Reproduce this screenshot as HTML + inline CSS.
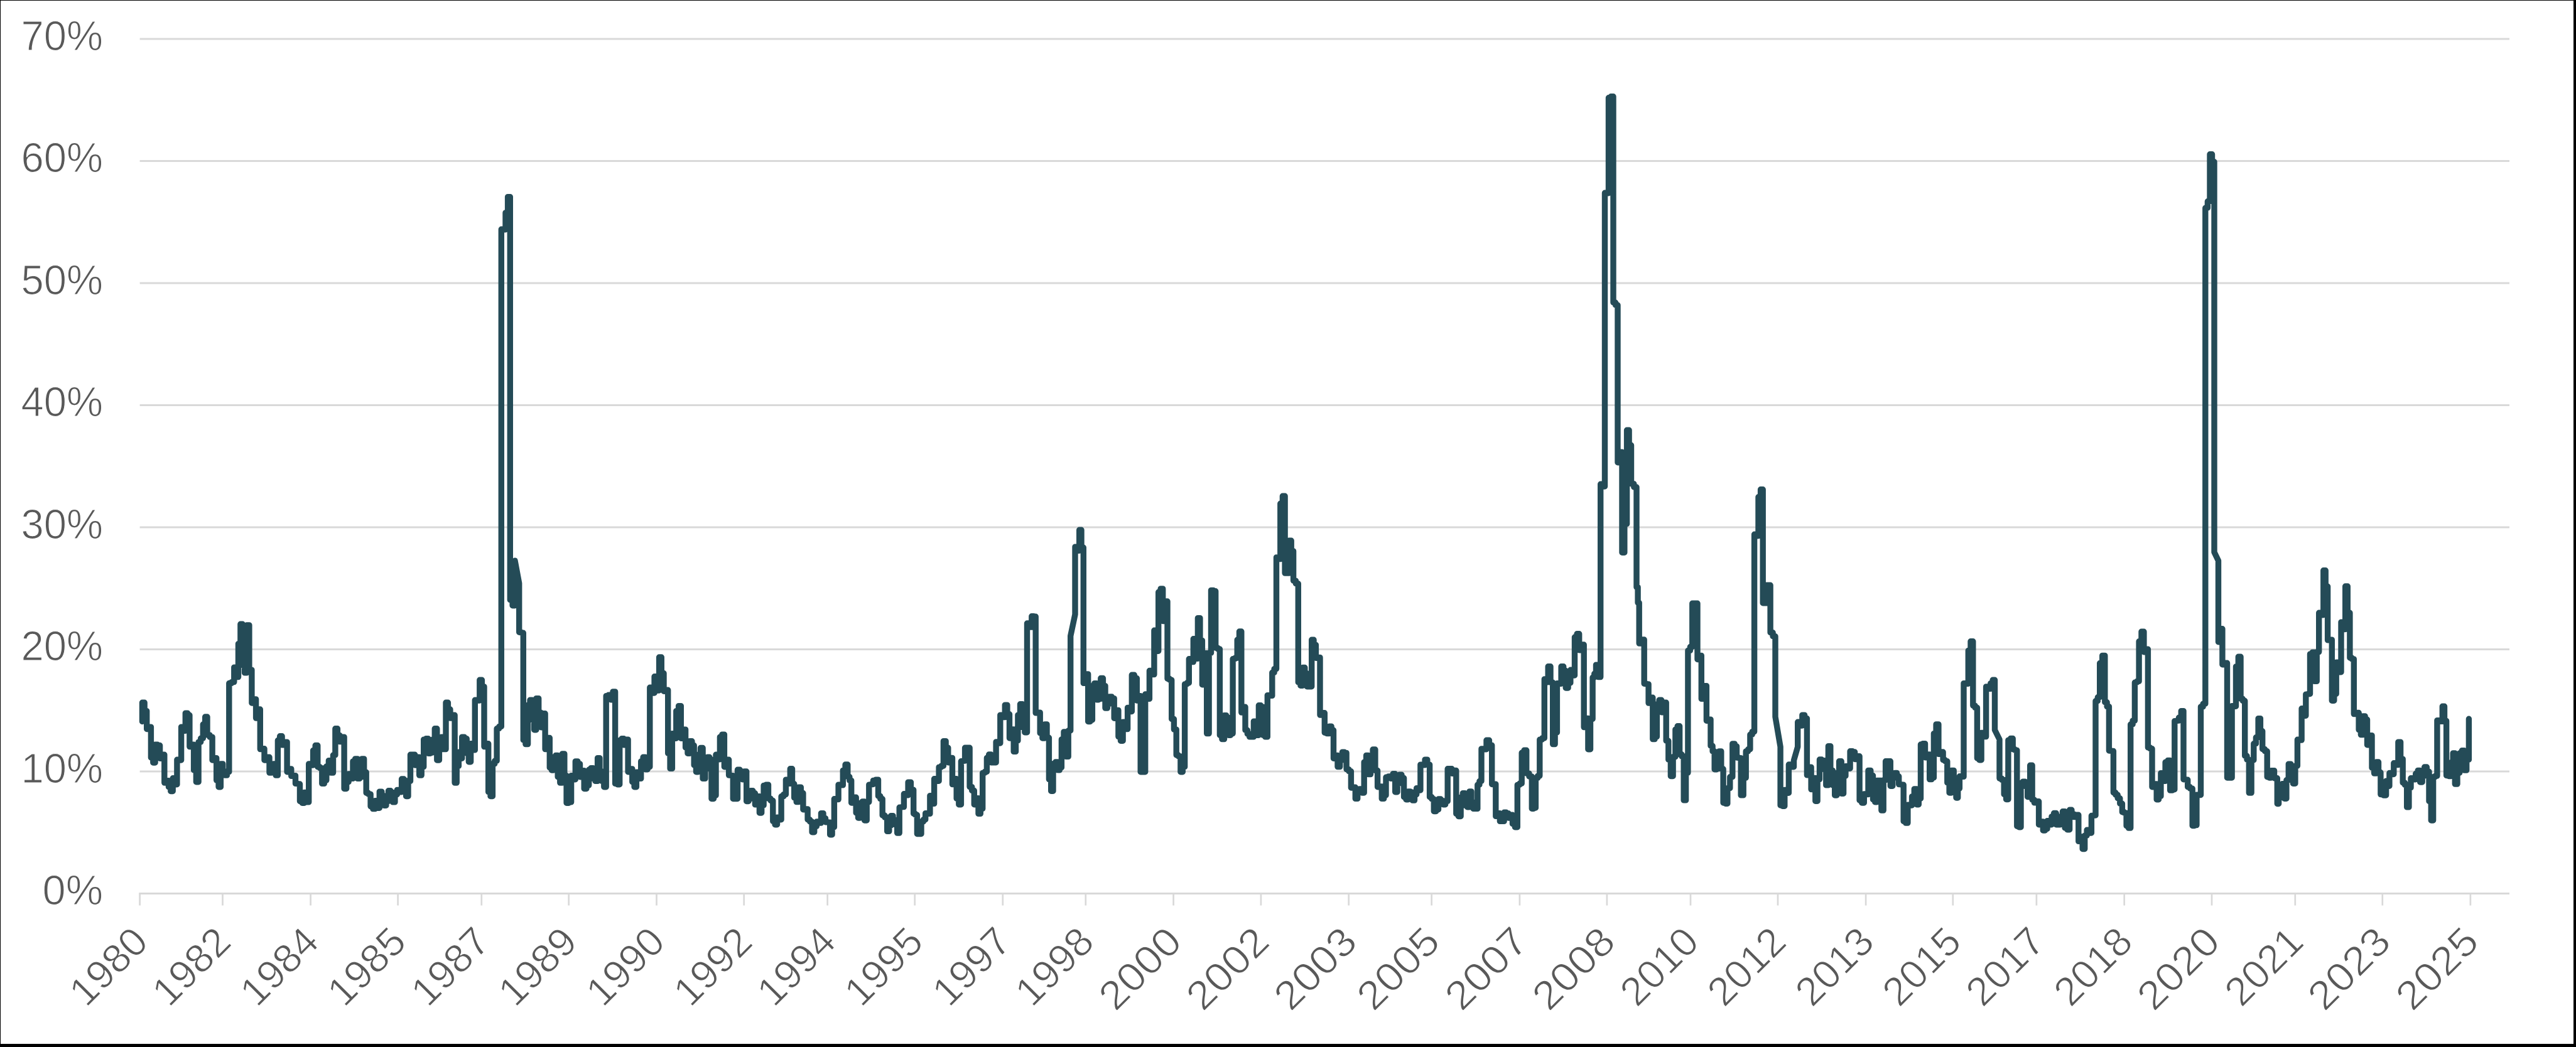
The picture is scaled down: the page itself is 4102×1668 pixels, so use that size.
<!DOCTYPE html>
<html><head><meta charset="utf-8"><style>
html,body{margin:0;padding:0;background:#fff;}
body{width:4102px;height:1668px;overflow:hidden;}
svg{display:block;}
</style></head><body>
<svg width="4102" height="1668" viewBox="0 0 4102 1668">
<rect x="0" y="0" width="4102" height="1668" fill="#000"/>
<rect x="1" y="1" width="4097" height="1662" fill="#fff"/>
<line x1="222.6" y1="1229.0" x2="3996" y2="1229.0" stroke="#d9d9d9" stroke-width="3"/>
<line x1="222.6" y1="1034.5" x2="3996" y2="1034.5" stroke="#d9d9d9" stroke-width="3"/>
<line x1="222.6" y1="840.0" x2="3996" y2="840.0" stroke="#d9d9d9" stroke-width="3"/>
<line x1="222.6" y1="645.5" x2="3996" y2="645.5" stroke="#d9d9d9" stroke-width="3"/>
<line x1="222.6" y1="451.0" x2="3996" y2="451.0" stroke="#d9d9d9" stroke-width="3"/>
<line x1="222.6" y1="256.5" x2="3996" y2="256.5" stroke="#d9d9d9" stroke-width="3"/>
<line x1="222.6" y1="62.0" x2="3996" y2="62.0" stroke="#d9d9d9" stroke-width="3"/>
<line x1="221.3" y1="1423.5" x2="3996" y2="1423.5" stroke="#d9d9d9" stroke-width="3"/>
<line x1="222.6" y1="1423.5" x2="222.6" y2="1442.5" stroke="#d9d9d9" stroke-width="2.7"/>
<line x1="354.5" y1="1423.5" x2="354.5" y2="1442.5" stroke="#d9d9d9" stroke-width="2.7"/>
<line x1="494.6" y1="1423.5" x2="494.6" y2="1442.5" stroke="#d9d9d9" stroke-width="2.7"/>
<line x1="633.6" y1="1423.5" x2="633.6" y2="1442.5" stroke="#d9d9d9" stroke-width="2.7"/>
<line x1="766.8" y1="1423.5" x2="766.8" y2="1442.5" stroke="#d9d9d9" stroke-width="2.7"/>
<line x1="905.7" y1="1423.5" x2="905.7" y2="1442.5" stroke="#d9d9d9" stroke-width="2.7"/>
<line x1="1045.5" y1="1423.5" x2="1045.5" y2="1442.5" stroke="#d9d9d9" stroke-width="2.7"/>
<line x1="1184.7" y1="1423.5" x2="1184.7" y2="1442.5" stroke="#d9d9d9" stroke-width="2.7"/>
<line x1="1317.7" y1="1423.5" x2="1317.7" y2="1442.5" stroke="#d9d9d9" stroke-width="2.7"/>
<line x1="1456.7" y1="1423.5" x2="1456.7" y2="1442.5" stroke="#d9d9d9" stroke-width="2.7"/>
<line x1="1596.8" y1="1423.5" x2="1596.8" y2="1442.5" stroke="#d9d9d9" stroke-width="2.7"/>
<line x1="1728.8" y1="1423.5" x2="1728.8" y2="1442.5" stroke="#d9d9d9" stroke-width="2.7"/>
<line x1="1868.6" y1="1423.5" x2="1868.6" y2="1442.5" stroke="#d9d9d9" stroke-width="2.7"/>
<line x1="2007.9" y1="1423.5" x2="2007.9" y2="1442.5" stroke="#d9d9d9" stroke-width="2.7"/>
<line x1="2147.7" y1="1423.5" x2="2147.7" y2="1442.5" stroke="#d9d9d9" stroke-width="2.7"/>
<line x1="2279.7" y1="1423.5" x2="2279.7" y2="1442.5" stroke="#d9d9d9" stroke-width="2.7"/>
<line x1="2419.9" y1="1423.5" x2="2419.9" y2="1442.5" stroke="#d9d9d9" stroke-width="2.7"/>
<line x1="2558.9" y1="1423.5" x2="2558.9" y2="1442.5" stroke="#d9d9d9" stroke-width="2.7"/>
<line x1="2692" y1="1423.5" x2="2692" y2="1442.5" stroke="#d9d9d9" stroke-width="2.7"/>
<line x1="2831" y1="1423.5" x2="2831" y2="1442.5" stroke="#d9d9d9" stroke-width="2.7"/>
<line x1="2971.1" y1="1423.5" x2="2971.1" y2="1442.5" stroke="#d9d9d9" stroke-width="2.7"/>
<line x1="3109.8" y1="1423.5" x2="3109.8" y2="1442.5" stroke="#d9d9d9" stroke-width="2.7"/>
<line x1="3242.9" y1="1423.5" x2="3242.9" y2="1442.5" stroke="#d9d9d9" stroke-width="2.7"/>
<line x1="3382.7" y1="1423.5" x2="3382.7" y2="1442.5" stroke="#d9d9d9" stroke-width="2.7"/>
<line x1="3522" y1="1423.5" x2="3522" y2="1442.5" stroke="#d9d9d9" stroke-width="2.7"/>
<line x1="3654.8" y1="1423.5" x2="3654.8" y2="1442.5" stroke="#d9d9d9" stroke-width="2.7"/>
<line x1="3793.8" y1="1423.5" x2="3793.8" y2="1442.5" stroke="#d9d9d9" stroke-width="2.7"/>
<line x1="3933.9" y1="1423.5" x2="3933.9" y2="1442.5" stroke="#d9d9d9" stroke-width="2.7"/>
<text x="164" y="1441.0" text-anchor="end" font-size="66" fill="#595959" stroke="#fff" stroke-width="1.2" textLength="96.5" lengthAdjust="spacingAndGlyphs" font-family="Liberation Sans, sans-serif">0%</text>
<text x="164" y="1246.5" text-anchor="end" font-size="66" fill="#595959" stroke="#fff" stroke-width="1.2" textLength="130.5" lengthAdjust="spacingAndGlyphs" font-family="Liberation Sans, sans-serif">10%</text>
<text x="164" y="1052.0" text-anchor="end" font-size="66" fill="#595959" stroke="#fff" stroke-width="1.2" textLength="130.5" lengthAdjust="spacingAndGlyphs" font-family="Liberation Sans, sans-serif">20%</text>
<text x="164" y="857.5" text-anchor="end" font-size="66" fill="#595959" stroke="#fff" stroke-width="1.2" textLength="130.5" lengthAdjust="spacingAndGlyphs" font-family="Liberation Sans, sans-serif">30%</text>
<text x="164" y="663.0" text-anchor="end" font-size="66" fill="#595959" stroke="#fff" stroke-width="1.2" textLength="130.5" lengthAdjust="spacingAndGlyphs" font-family="Liberation Sans, sans-serif">40%</text>
<text x="164" y="468.5" text-anchor="end" font-size="66" fill="#595959" stroke="#fff" stroke-width="1.2" textLength="130.5" lengthAdjust="spacingAndGlyphs" font-family="Liberation Sans, sans-serif">50%</text>
<text x="164" y="274.0" text-anchor="end" font-size="66" fill="#595959" stroke="#fff" stroke-width="1.2" textLength="130.5" lengthAdjust="spacingAndGlyphs" font-family="Liberation Sans, sans-serif">60%</text>
<text x="164" y="79.5" text-anchor="end" font-size="66" fill="#595959" stroke="#fff" stroke-width="1.2" textLength="130.5" lengthAdjust="spacingAndGlyphs" font-family="Liberation Sans, sans-serif">70%</text>
<text x="0" y="0" transform="translate(206.6 1471) rotate(-45)" text-anchor="end" font-size="64" fill="#595959" stroke="#fff" stroke-width="1.2" textLength="144.8" lengthAdjust="spacingAndGlyphs" font-family="Liberation Sans, sans-serif" dominant-baseline="hanging">1980</text>
<text x="0" y="0" transform="translate(338.5 1471) rotate(-45)" text-anchor="end" font-size="64" fill="#595959" stroke="#fff" stroke-width="1.2" textLength="144.8" lengthAdjust="spacingAndGlyphs" font-family="Liberation Sans, sans-serif" dominant-baseline="hanging">1982</text>
<text x="0" y="0" transform="translate(478.6 1471) rotate(-45)" text-anchor="end" font-size="64" fill="#595959" stroke="#fff" stroke-width="1.2" textLength="144.8" lengthAdjust="spacingAndGlyphs" font-family="Liberation Sans, sans-serif" dominant-baseline="hanging">1984</text>
<text x="0" y="0" transform="translate(617.6 1471) rotate(-45)" text-anchor="end" font-size="64" fill="#595959" stroke="#fff" stroke-width="1.2" textLength="144.8" lengthAdjust="spacingAndGlyphs" font-family="Liberation Sans, sans-serif" dominant-baseline="hanging">1985</text>
<text x="0" y="0" transform="translate(750.8 1471) rotate(-45)" text-anchor="end" font-size="64" fill="#595959" stroke="#fff" stroke-width="1.2" textLength="144.8" lengthAdjust="spacingAndGlyphs" font-family="Liberation Sans, sans-serif" dominant-baseline="hanging">1987</text>
<text x="0" y="0" transform="translate(889.7 1471) rotate(-45)" text-anchor="end" font-size="64" fill="#595959" stroke="#fff" stroke-width="1.2" textLength="144.8" lengthAdjust="spacingAndGlyphs" font-family="Liberation Sans, sans-serif" dominant-baseline="hanging">1989</text>
<text x="0" y="0" transform="translate(1029.5 1471) rotate(-45)" text-anchor="end" font-size="64" fill="#595959" stroke="#fff" stroke-width="1.2" textLength="144.8" lengthAdjust="spacingAndGlyphs" font-family="Liberation Sans, sans-serif" dominant-baseline="hanging">1990</text>
<text x="0" y="0" transform="translate(1168.7 1471) rotate(-45)" text-anchor="end" font-size="64" fill="#595959" stroke="#fff" stroke-width="1.2" textLength="144.8" lengthAdjust="spacingAndGlyphs" font-family="Liberation Sans, sans-serif" dominant-baseline="hanging">1992</text>
<text x="0" y="0" transform="translate(1301.7 1471) rotate(-45)" text-anchor="end" font-size="64" fill="#595959" stroke="#fff" stroke-width="1.2" textLength="144.8" lengthAdjust="spacingAndGlyphs" font-family="Liberation Sans, sans-serif" dominant-baseline="hanging">1994</text>
<text x="0" y="0" transform="translate(1440.7 1471) rotate(-45)" text-anchor="end" font-size="64" fill="#595959" stroke="#fff" stroke-width="1.2" textLength="144.8" lengthAdjust="spacingAndGlyphs" font-family="Liberation Sans, sans-serif" dominant-baseline="hanging">1995</text>
<text x="0" y="0" transform="translate(1580.8 1471) rotate(-45)" text-anchor="end" font-size="64" fill="#595959" stroke="#fff" stroke-width="1.2" textLength="144.8" lengthAdjust="spacingAndGlyphs" font-family="Liberation Sans, sans-serif" dominant-baseline="hanging">1997</text>
<text x="0" y="0" transform="translate(1712.8 1471) rotate(-45)" text-anchor="end" font-size="64" fill="#595959" stroke="#fff" stroke-width="1.2" textLength="144.8" lengthAdjust="spacingAndGlyphs" font-family="Liberation Sans, sans-serif" dominant-baseline="hanging">1998</text>
<text x="0" y="0" transform="translate(1852.6 1471) rotate(-45)" text-anchor="end" font-size="64" fill="#595959" stroke="#fff" stroke-width="1.2" textLength="154.4" lengthAdjust="spacingAndGlyphs" font-family="Liberation Sans, sans-serif" dominant-baseline="hanging">2000</text>
<text x="0" y="0" transform="translate(1991.9 1471) rotate(-45)" text-anchor="end" font-size="64" fill="#595959" stroke="#fff" stroke-width="1.2" textLength="154.4" lengthAdjust="spacingAndGlyphs" font-family="Liberation Sans, sans-serif" dominant-baseline="hanging">2002</text>
<text x="0" y="0" transform="translate(2131.7 1471) rotate(-45)" text-anchor="end" font-size="64" fill="#595959" stroke="#fff" stroke-width="1.2" textLength="154.4" lengthAdjust="spacingAndGlyphs" font-family="Liberation Sans, sans-serif" dominant-baseline="hanging">2003</text>
<text x="0" y="0" transform="translate(2263.7 1471) rotate(-45)" text-anchor="end" font-size="64" fill="#595959" stroke="#fff" stroke-width="1.2" textLength="154.4" lengthAdjust="spacingAndGlyphs" font-family="Liberation Sans, sans-serif" dominant-baseline="hanging">2005</text>
<text x="0" y="0" transform="translate(2403.9 1471) rotate(-45)" text-anchor="end" font-size="64" fill="#595959" stroke="#fff" stroke-width="1.2" textLength="154.4" lengthAdjust="spacingAndGlyphs" font-family="Liberation Sans, sans-serif" dominant-baseline="hanging">2007</text>
<text x="0" y="0" transform="translate(2542.9 1471) rotate(-45)" text-anchor="end" font-size="64" fill="#595959" stroke="#fff" stroke-width="1.2" textLength="154.4" lengthAdjust="spacingAndGlyphs" font-family="Liberation Sans, sans-serif" dominant-baseline="hanging">2008</text>
<text x="0" y="0" transform="translate(2676.0 1471) rotate(-45)" text-anchor="end" font-size="64" fill="#595959" stroke="#fff" stroke-width="1.2" textLength="144.8" lengthAdjust="spacingAndGlyphs" font-family="Liberation Sans, sans-serif" dominant-baseline="hanging">2010</text>
<text x="0" y="0" transform="translate(2815.0 1471) rotate(-45)" text-anchor="end" font-size="64" fill="#595959" stroke="#fff" stroke-width="1.2" textLength="144.8" lengthAdjust="spacingAndGlyphs" font-family="Liberation Sans, sans-serif" dominant-baseline="hanging">2012</text>
<text x="0" y="0" transform="translate(2955.1 1471) rotate(-45)" text-anchor="end" font-size="64" fill="#595959" stroke="#fff" stroke-width="1.2" textLength="144.8" lengthAdjust="spacingAndGlyphs" font-family="Liberation Sans, sans-serif" dominant-baseline="hanging">2013</text>
<text x="0" y="0" transform="translate(3093.8 1471) rotate(-45)" text-anchor="end" font-size="64" fill="#595959" stroke="#fff" stroke-width="1.2" textLength="144.8" lengthAdjust="spacingAndGlyphs" font-family="Liberation Sans, sans-serif" dominant-baseline="hanging">2015</text>
<text x="0" y="0" transform="translate(3226.9 1471) rotate(-45)" text-anchor="end" font-size="64" fill="#595959" stroke="#fff" stroke-width="1.2" textLength="144.8" lengthAdjust="spacingAndGlyphs" font-family="Liberation Sans, sans-serif" dominant-baseline="hanging">2017</text>
<text x="0" y="0" transform="translate(3366.7 1471) rotate(-45)" text-anchor="end" font-size="64" fill="#595959" stroke="#fff" stroke-width="1.2" textLength="144.8" lengthAdjust="spacingAndGlyphs" font-family="Liberation Sans, sans-serif" dominant-baseline="hanging">2018</text>
<text x="0" y="0" transform="translate(3506.0 1471) rotate(-45)" text-anchor="end" font-size="64" fill="#595959" stroke="#fff" stroke-width="1.2" textLength="154.4" lengthAdjust="spacingAndGlyphs" font-family="Liberation Sans, sans-serif" dominant-baseline="hanging">2020</text>
<text x="0" y="0" transform="translate(3638.8 1471) rotate(-45)" text-anchor="end" font-size="64" fill="#595959" stroke="#fff" stroke-width="1.2" textLength="144.8" lengthAdjust="spacingAndGlyphs" font-family="Liberation Sans, sans-serif" dominant-baseline="hanging">2021</text>
<text x="0" y="0" transform="translate(3777.8 1471) rotate(-45)" text-anchor="end" font-size="64" fill="#595959" stroke="#fff" stroke-width="1.2" textLength="154.4" lengthAdjust="spacingAndGlyphs" font-family="Liberation Sans, sans-serif" dominant-baseline="hanging">2023</text>
<text x="0" y="0" transform="translate(3917.9 1471) rotate(-45)" text-anchor="end" font-size="64" fill="#595959" stroke="#fff" stroke-width="1.2" textLength="154.4" lengthAdjust="spacingAndGlyphs" font-family="Liberation Sans, sans-serif" dominant-baseline="hanging">2025</text>
<path d="M226.5 1149.5 L226.5 1119.3 L230.1 1119.3 L230.1 1132.6 L233.7 1132.6 L233.7 1161.5 L237.1 1161.5 L237.1 1158.1 L240.4 1158.1 L240.4 1207.0 L243.8 1207.0 L243.8 1215.0 L247.1 1215.0 L247.1 1186.2 L250.8 1186.2 L250.8 1187.5 L254.6 1187.5 L254.6 1208.3 L258.2 1208.3 L258.2 1202.2 L261.8 1202.2 L261.8 1247.1 L265.2 1247.1 L265.2 1243.7 L268.5 1243.7 L268.5 1253.8 L271.8 1253.8 L271.8 1260.5 L275.2 1260.5 L275.2 1239.7 L278.5 1239.7 L278.5 1249.8 L281.9 1249.8 L281.9 1210.2 L285.2 1210.2 L285.2 1211.0 L288.6 1211.0 L288.6 1158.1 L291.9 1158.1 L291.9 1164.2 L295.3 1164.2 L295.3 1136.1 L298.6 1136.1 L298.6 1139.3 L301.9 1139.3 L301.9 1189.6 L305.3 1189.6 L305.3 1186.2 L308.6 1186.2 L308.6 1227.0 L312.4 1227.0 L312.4 1245.8 L316.1 1245.8 L316.1 1182.1 L319.7 1182.1 L319.7 1176.2 L323.3 1176.2 L323.3 1154.0 L326.7 1154.0 L326.7 1142.0 L330.0 1142.0 L330.0 1170.9 L334.0 1170.9 L334.0 1174.1 L338.1 1174.1 L338.1 1211.0 L341.4 1211.0 L341.4 1207.6 L344.7 1207.6 L344.7 1243.1 L348.1 1243.1 L348.1 1253.8 L351.4 1253.8 L351.4 1216.9 L354.8 1216.9 L354.8 1229.0 L358.1 1229.0 L358.1 1235.1 L361.5 1235.1 L361.5 1229.7 L364.8 1229.7 L364.8 1088.5 L368.8 1088.5 L368.8 1086.6 L372.8 1086.6 L372.8 1063.1 L376.2 1063.1 L376.2 1078.6 L379.5 1078.6 L379.5 1025.6 L382.9 1025.6 L382.9 994.3 L386.2 994.3 L386.2 1059.8 L389.6 1059.8 L389.6 1071.9 L392.9 1071.9 L392.9 995.9 L396.9 995.9 L396.9 1067.1 L400.9 1067.1 L400.9 1120.0 L404.3 1120.0 L404.3 1113.9 L407.6 1113.9 L407.6 1144.1 L411.0 1144.1 L411.0 1130.0 L414.3 1130.0 L414.3 1193.6 L417.6 1193.6 L417.6 1192.8 L421.0 1192.8 L421.0 1211.0 L425.0 1211.0 L425.0 1206.2 L429.0 1206.2 L429.0 1231.1 L432.4 1231.1 L432.4 1229.7 L435.7 1229.7 L435.7 1216.9 L439.1 1216.9 L439.1 1235.1 L442.4 1235.1 L442.4 1179.5 L445.7 1179.5 L445.7 1172.8 L449.1 1172.8 L449.1 1186.9 L453.1 1186.9 L453.1 1182.1 L457.1 1182.1 L457.1 1229.7 L460.5 1229.7 L460.5 1224.9 L463.8 1224.9 L463.8 1236.4 L467.2 1236.4 L467.2 1235.6 L470.5 1235.6 L470.5 1248.4 L474.0 1248.4 L474.0 1249.0 L477.5 1249.0 L477.5 1276.5 L481.1 1276.5 L481.1 1279.2 L484.7 1279.2 L484.7 1262.4 L488.2 1262.4 L488.2 1277.9 L491.7 1277.9 L491.7 1216.9 L495.1 1216.9 L495.1 1219.0 L498.6 1219.0 L498.6 1195.5 L502.2 1195.5 L502.2 1187.5 L505.8 1187.5 L505.8 1221.7 L509.3 1221.7 L509.3 1223.6 L512.8 1223.6 L512.8 1248.4 L516.3 1248.4 L516.3 1243.1 L519.8 1243.1 L519.8 1220.9 L523.4 1220.9 L523.4 1211.6 L527.0 1211.6 L527.0 1231.1 L530.5 1231.1 L530.5 1203.0 L533.9 1203.0 L533.9 1160.7 L537.4 1160.7 L537.4 1171.4 L540.9 1171.4 L540.9 1181.6 L544.5 1181.6 L544.5 1174.1 L548.1 1174.1 L548.1 1256.5 L551.6 1256.5 L551.6 1245.8 L555.1 1245.8 L555.1 1233.0 L558.6 1233.0 L558.6 1240.4 L562.0 1240.4 L562.0 1212.9 L565.6 1212.9 L565.6 1208.9 L569.3 1208.9 L569.3 1240.4 L572.7 1240.4 L572.7 1237.7 L576.2 1237.7 L576.2 1208.9 L579.7 1208.9 L579.7 1230.3 L583.2 1230.3 L583.2 1263.2 L586.6 1263.2 L586.6 1265.1 L590.1 1265.1 L590.1 1284.6 L593.7 1284.6 L593.7 1288.6 L597.3 1288.6 L597.3 1275.8 L600.8 1275.8 L600.8 1287.2 L604.3 1287.2 L604.3 1261.1 L607.8 1261.1 L607.8 1267.7 L611.3 1267.7 L611.3 1283.2 L614.9 1283.2 L614.9 1276.5 L618.5 1276.5 L618.5 1259.7 L622.0 1259.7 L622.0 1262.4 L625.4 1262.4 L625.4 1277.9 L628.9 1277.9 L628.9 1265.8 L632.4 1265.8 L632.4 1258.4 L636.0 1258.4 L636.0 1261.8 L639.6 1261.8 L639.6 1241.0 L643.1 1241.0 L643.1 1243.7 L646.6 1243.7 L646.6 1268.5 L650.0 1268.5 L650.0 1244.4 L653.5 1244.4 L653.5 1202.2 L657.1 1202.2 L657.1 1202.2 L660.7 1202.2 L660.7 1219.0 L664.2 1219.0 L664.2 1206.2 L667.7 1206.2 L667.7 1235.1 L671.2 1235.1 L671.2 1221.7 L674.7 1221.7 L674.7 1178.1 L678.3 1178.1 L678.3 1176.8 L681.9 1176.8 L681.9 1200.3 L685.4 1200.3 L685.4 1199.0 L688.8 1199.0 L688.8 1178.1 L692.3 1178.1 L692.3 1160.7 L695.8 1160.7 L695.8 1211.0 L699.4 1211.0 L699.4 1193.6 L703.0 1193.6 L703.0 1174.1 L706.5 1174.1 L706.5 1193.6 L710.0 1193.6 L710.0 1119.3 L713.4 1119.3 L713.4 1130.0 L716.9 1130.0 L716.9 1144.1 L720.5 1144.1 L720.5 1139.3 L724.1 1139.3 L724.1 1247.1 L727.2 1247.1 L727.2 1220.4 L730.4 1220.4 L730.4 1198.2 L733.0 1198.2 L733.0 1208.3 L735.7 1208.3 L735.7 1174.1 L739.4 1174.1 L739.4 1176.8 L743.2 1176.8 L743.2 1200.3 L746.4 1200.3 L746.4 1213.7 L749.6 1213.7 L749.6 1184.8 L753.0 1184.8 L753.0 1194.9 L756.3 1194.9 L756.3 1115.3 L760.0 1115.3 L760.0 1116.0 L763.8 1116.0 L763.8 1083.2 L767.4 1083.2 L767.4 1093.9 L771.0 1093.9 L771.0 1189.6 L774.4 1189.6 L774.4 1184.8 L777.7 1184.8 L777.7 1261.8 L781.0 1261.8 L781.0 1268.5 L784.4 1268.5 L784.4 1216.9 L787.7 1216.9 L787.7 1212.3 L791.1 1212.3 L791.1 1160.7 L794.7 1160.7 L794.7 1157.5 L798.3 1157.5 L798.3 365.3 L801.6 365.3 L801.6 365.7 L805.0 365.7 L805.0 338.9 L808.6 338.9 L808.6 313.6 L812.3 313.6 L812.3 955.7 L816.1 955.7 L816.1 964.7 L820.0 964.7 L820.0 893.3 L826.7 929.3 L826.7 1007.2 L830.0 1007.2 L830.0 1008.3 L833.3 1008.3 L833.3 1178.9 L836.9 1178.9 L836.9 1185.6 L840.6 1185.6 L840.6 1123.3 L844.0 1123.3 L844.0 1115.3 L847.5 1115.3 L847.5 1146.8 L850.7 1146.8 L850.7 1162.8 L853.9 1162.8 L853.9 1112.6 L857.7 1112.6 L857.7 1135.3 L861.4 1135.3 L861.4 1158.8 L864.8 1158.8 L864.8 1136.7 L868.1 1136.7 L868.1 1193.6 L871.7 1193.6 L871.7 1175.5 L875.3 1175.5 L875.3 1223.0 L878.4 1223.0 L878.4 1227.0 L881.5 1227.0 L881.5 1206.2 L884.8 1206.2 L884.8 1203.5 L888.2 1203.5 L888.2 1237.7 L891.8 1237.7 L891.8 1247.1 L895.4 1247.1 L895.4 1200.9 L898.8 1200.9 L898.8 1235.6 L902.1 1235.6 L902.1 1279.2 L905.8 1279.2 L905.8 1277.9 L909.6 1277.9 L909.6 1235.6 L912.9 1235.6 L912.9 1241.8 L916.3 1241.8 L916.3 1212.9 L919.9 1212.9 L919.9 1216.9 L923.5 1216.9 L923.5 1237.7 L926.8 1237.7 L926.8 1227.6 L930.2 1227.6 L930.2 1256.5 L933.9 1256.5 L933.9 1251.1 L937.7 1251.1 L937.7 1226.3 L941.0 1226.3 L941.0 1223.6 L944.4 1223.6 L944.4 1240.4 L948.0 1240.4 L948.0 1244.4 L951.6 1244.4 L951.6 1207.6 L954.9 1207.6 L954.9 1229.0 L958.3 1229.0 L958.3 1244.4 L961.8 1244.4 L961.8 1253.8 L965.2 1253.8 L965.2 1108.6 L968.8 1108.6 L968.8 1107.2 L972.5 1107.2 L972.5 1114.7 L976.0 1114.7 L976.0 1101.9 L979.6 1101.9 L979.6 1248.4 L983.1 1248.4 L983.1 1249.8 L986.7 1249.8 L986.7 1179.5 L990.0 1179.5 L990.0 1176.8 L993.4 1176.8 L993.4 1186.9 L996.7 1186.9 L996.7 1178.1 L1000.1 1178.1 L1000.1 1229.7 L1003.4 1229.7 L1003.4 1224.9 L1006.8 1224.9 L1006.8 1245.8 L1010.1 1245.8 L1010.1 1253.8 L1013.4 1253.8 L1013.4 1230.3 L1017.1 1230.3 L1017.1 1240.4 L1020.7 1240.4 L1020.7 1212.9 L1024.1 1212.9 L1024.1 1206.2 L1027.6 1206.2 L1027.6 1225.7 L1031.2 1225.7 L1031.2 1221.7 L1034.8 1221.7 L1034.8 1095.2 L1038.5 1095.2 L1038.5 1104.0 L1042.1 1104.0 L1042.1 1077.8 L1045.8 1077.8 L1045.8 1100.0 L1049.6 1100.0 L1049.6 1047.0 L1053.3 1047.0 L1053.3 1072.5 L1057.0 1072.5 L1057.0 1101.3 L1060.4 1101.3 L1060.4 1099.2 L1063.7 1099.2 L1063.7 1200.3 L1067.1 1200.3 L1067.1 1224.4 L1070.4 1224.4 L1070.4 1168.8 L1073.6 1168.8 L1073.6 1176.2 L1076.8 1176.2 L1076.8 1132.6 L1080.6 1132.6 L1080.6 1124.6 L1084.3 1124.6 L1084.3 1176.2 L1087.9 1176.2 L1087.9 1162.1 L1091.6 1162.1 L1091.6 1190.9 L1095.0 1190.9 L1095.0 1200.3 L1098.5 1200.3 L1098.5 1180.8 L1101.9 1180.8 L1101.9 1187.5 L1105.2 1187.5 L1105.2 1219.0 L1108.5 1219.0 L1108.5 1229.7 L1111.9 1229.7 L1111.9 1202.2 L1115.5 1202.2 L1115.5 1191.5 L1119.1 1191.5 L1119.1 1240.4 L1122.9 1240.4 L1122.9 1224.4 L1126.6 1224.4 L1126.6 1206.2 L1129.8 1206.2 L1129.8 1210.2 L1133.0 1210.2 L1133.0 1272.5 L1136.5 1272.5 L1136.5 1267.2 L1140.0 1267.2 L1140.0 1202.2 L1143.2 1202.2 L1143.2 1209.7 L1146.4 1209.7 L1146.4 1174.1 L1149.9 1174.1 L1149.9 1170.1 L1153.4 1170.1 L1153.4 1221.7 L1157.0 1221.7 L1157.0 1210.2 L1160.6 1210.2 L1160.6 1235.1 L1163.9 1235.1 L1163.9 1235.6 L1167.3 1235.6 L1167.3 1272.5 L1170.9 1272.5 L1170.9 1272.5 L1174.5 1272.5 L1174.5 1226.3 L1178.2 1226.3 L1178.2 1229.0 L1182.0 1229.0 L1182.0 1241.8 L1185.3 1241.8 L1185.3 1229.0 L1188.7 1229.0 L1188.7 1276.5 L1192.0 1276.5 L1192.0 1272.5 L1195.4 1272.5 L1195.4 1259.7 L1198.9 1259.7 L1198.9 1263.7 L1202.4 1263.7 L1202.4 1281.9 L1205.9 1281.9 L1205.9 1268.8 L1209.4 1268.8 L1209.4 1295.0 L1212.7 1295.0 L1212.7 1283.0 L1216.1 1283.0 L1216.1 1251.4 L1219.8 1251.4 L1219.8 1250.1 L1223.5 1250.1 L1223.5 1272.3 L1227.2 1272.3 L1227.2 1275.5 L1230.8 1275.5 L1230.8 1308.4 L1234.1 1308.4 L1234.1 1313.7 L1237.5 1313.7 L1237.5 1302.3 L1240.8 1302.3 L1240.8 1305.7 L1244.1 1305.7 L1244.1 1268.8 L1247.8 1268.8 L1247.8 1265.6 L1251.4 1265.6 L1251.4 1242.1 L1254.8 1242.1 L1254.8 1248.2 L1258.3 1248.2 L1258.3 1224.7 L1261.5 1224.7 L1261.5 1248.8 L1264.7 1248.8 L1264.7 1270.9 L1268.2 1270.9 L1268.2 1277.6 L1271.7 1277.6 L1271.7 1254.1 L1275.3 1254.1 L1275.3 1263.5 L1278.9 1263.5 L1278.9 1289.7 L1282.5 1289.7 L1282.5 1288.9 L1286.1 1288.9 L1286.1 1305.7 L1289.6 1305.7 L1289.6 1309.0 L1293.1 1309.0 L1293.1 1325.8 L1296.7 1325.8 L1296.7 1316.4 L1300.3 1316.4 L1300.3 1309.0 L1303.9 1309.0 L1303.9 1311.1 L1307.5 1311.1 L1307.5 1295.6 L1311.0 1295.6 L1311.0 1303.6 L1314.5 1303.6 L1314.5 1309.7 L1318.1 1309.7 L1318.1 1310.3 L1321.7 1310.3 L1321.7 1329.8 L1325.1 1329.8 L1325.1 1317.7 L1328.4 1317.7 L1328.4 1272.8 L1331.8 1272.8 L1331.8 1273.6 L1335.1 1273.6 L1335.1 1250.1 L1338.7 1250.1 L1338.7 1250.9 L1342.3 1250.9 L1342.3 1227.4 L1346.1 1227.4 L1346.1 1218.0 L1349.8 1218.0 L1349.8 1237.5 L1352.8 1237.5 L1352.8 1243.4 L1355.7 1243.4 L1355.7 1279.0 L1359.4 1279.0 L1359.4 1270.2 L1363.2 1270.2 L1363.2 1295.0 L1366.5 1295.0 L1366.5 1303.0 L1369.9 1303.0 L1369.9 1279.5 L1373.2 1279.5 L1373.2 1276.9 L1376.6 1276.9 L1376.6 1307.0 L1380.2 1307.0 L1380.2 1277.6 L1383.8 1277.6 L1383.8 1250.1 L1387.1 1250.1 L1387.1 1249.5 L1390.5 1249.5 L1390.5 1243.4 L1394.5 1243.4 L1394.5 1242.1 L1398.5 1242.1 L1398.5 1268.3 L1401.8 1268.3 L1401.8 1272.8 L1405.2 1272.8 L1405.2 1299.0 L1408.9 1299.0 L1408.9 1302.3 L1412.7 1302.3 L1412.7 1324.4 L1415.8 1324.4 L1415.8 1315.1 L1418.8 1315.1 L1418.8 1299.6 L1422.0 1299.6 L1422.0 1306.3 L1425.3 1306.3 L1425.3 1313.7 L1428.7 1313.7 L1428.7 1327.1 L1432.2 1327.1 L1432.2 1286.2 L1435.8 1286.2 L1435.8 1285.6 L1439.4 1285.6 L1439.4 1264.8 L1442.8 1264.8 L1442.8 1266.9 L1446.1 1266.9 L1446.1 1246.1 L1450.4 1246.1 L1450.4 1258.2 L1454.7 1258.2 L1454.7 1296.3 L1457.5 1296.3 L1457.5 1298.3 L1460.4 1298.3 L1460.4 1328.5 L1463.7 1328.5 L1463.7 1328.5 L1467.0 1328.5 L1467.0 1309.0 L1470.4 1309.0 L1470.4 1305.8 L1473.7 1305.8 L1473.7 1295.6 L1477.3 1295.6 L1477.3 1296.4 L1480.9 1296.4 L1480.9 1267.6 L1484.3 1267.6 L1484.3 1280.4 L1487.6 1280.4 L1487.6 1240.8 L1491.4 1240.8 L1491.4 1244.2 L1495.1 1244.2 L1495.1 1222.1 L1498.7 1222.1 L1498.7 1220.2 L1502.4 1220.2 L1502.4 1180.6 L1506.1 1180.6 L1506.1 1191.3 L1509.8 1191.3 L1509.8 1214.8 L1513.2 1214.8 L1513.2 1207.4 L1516.5 1207.4 L1516.5 1249.6 L1519.9 1249.6 L1519.9 1240.8 L1523.2 1240.8 L1523.2 1272.3 L1526.8 1272.3 L1526.8 1281.7 L1530.4 1281.7 L1530.4 1212.7 L1533.5 1212.7 L1533.5 1212.1 L1536.6 1212.1 L1536.6 1191.3 L1540.3 1191.3 L1540.3 1191.3 L1544.1 1191.3 L1544.1 1253.6 L1547.7 1253.6 L1547.7 1259.5 L1551.3 1259.5 L1551.3 1281.7 L1554.7 1281.7 L1554.7 1271.6 L1558.0 1271.6 L1558.0 1296.4 L1561.3 1296.4 L1561.3 1288.4 L1564.7 1288.4 L1564.7 1231.4 L1568.0 1231.4 L1568.0 1229.5 L1571.4 1229.5 L1571.4 1207.4 L1574.7 1207.4 L1574.7 1202.0 L1578.1 1202.0 L1578.1 1214.8 L1582.1 1214.8 L1582.1 1214.8 L1586.1 1214.8 L1586.1 1181.9 L1589.4 1181.9 L1589.4 1184.0 L1592.8 1184.0 L1592.8 1139.1 L1596.5 1139.1 L1596.5 1142.6 L1600.3 1142.6 L1600.3 1123.1 L1603.9 1123.1 L1603.9 1137.8 L1607.5 1137.8 L1607.5 1176.0 L1610.8 1176.0 L1610.8 1161.9 L1614.2 1161.9 L1614.2 1197.4 L1617.5 1197.4 L1617.5 1180.0 L1620.9 1180.0 L1620.9 1139.1 L1624.5 1139.1 L1624.5 1121.8 L1628.1 1121.8 L1628.1 1158.6 L1631.8 1158.6 L1631.8 1166.7 L1635.5 1166.7 L1635.5 993.0 L1639.1 993.0 L1639.1 999.1 L1642.8 999.1 L1642.8 981.7 L1646.0 981.7 L1646.0 982.3 L1649.2 982.3 L1649.2 1135.9 L1652.7 1135.9 L1652.7 1135.1 L1656.2 1135.1 L1656.2 1168.0 L1659.9 1168.0 L1659.9 1176.0 L1663.7 1176.0 L1663.7 1153.9 L1667.0 1153.9 L1667.0 1175.3 L1670.4 1175.3 L1670.4 1241.6 L1673.7 1241.6 L1673.7 1260.3 L1677.0 1260.3 L1677.0 1216.7 L1680.7 1216.7 L1680.7 1214.0 L1684.3 1214.0 L1684.3 1226.9 L1687.3 1226.9 L1687.3 1222.8 L1690.4 1222.8 L1690.4 1177.9 L1694.0 1177.9 L1694.0 1165.9 L1697.6 1165.9 L1697.6 1205.4 L1701.2 1205.4 L1701.2 1164.0 L1704.7 1164.0 L1704.7 1013.3 L1712.0 978.7 L1712.0 871.1 L1715.3 871.1 L1715.3 877.2 L1718.7 877.2 L1718.7 844.3 L1722.0 844.3 L1722.0 872.3 L1725.3 872.3 L1725.3 1088.4 L1729.0 1088.4 L1729.0 1073.9 L1732.7 1073.9 L1732.7 1149.5 L1736.1 1149.5 L1736.1 1146.9 L1739.4 1146.9 L1739.4 1092.6 L1742.8 1092.6 L1742.8 1088.6 L1746.1 1088.6 L1746.1 1114.7 L1749.5 1114.7 L1749.5 1113.4 L1752.8 1113.4 L1752.8 1080.5 L1756.4 1080.5 L1756.4 1092.6 L1760.0 1092.6 L1760.0 1128.1 L1763.4 1128.1 L1763.4 1121.4 L1766.7 1121.4 L1766.7 1110.0 L1770.5 1110.0 L1770.5 1112.6 L1774.2 1112.6 L1774.2 1144.2 L1777.5 1144.2 L1777.5 1131.4 L1780.9 1131.4 L1780.9 1173.6 L1784.5 1173.6 L1784.5 1180.3 L1788.1 1180.3 L1788.1 1150.1 L1791.9 1150.1 L1791.9 1161.6 L1795.6 1161.6 L1795.6 1127.4 L1799.0 1127.4 L1799.0 1133.5 L1802.3 1133.5 L1802.3 1075.2 L1806.3 1075.2 L1806.3 1080.5 L1810.3 1080.5 L1810.3 1116.1 L1813.3 1116.1 L1813.3 1108.6 L1816.2 1108.6 L1816.2 1229.8 L1820.0 1229.8 L1820.0 1229.8 L1823.7 1229.8 L1823.7 1106.0 L1827.0 1106.0 L1827.0 1113.4 L1830.4 1113.4 L1830.4 1068.5 L1834.1 1068.5 L1834.1 1074.6 L1837.9 1074.6 L1837.9 1004.3 L1841.3 1004.3 L1841.3 1037.2 L1844.7 1037.2 L1844.7 943.3 L1848.2 943.3 L1848.2 937.9 L1851.7 937.9 L1851.7 989.5 L1855.4 989.5 L1855.4 958.0 L1859.0 958.0 L1859.0 1081.3 L1862.4 1081.3 L1862.4 1083.2 L1865.7 1083.2 L1865.7 1145.5 L1869.4 1145.5 L1869.4 1162.1 L1873.2 1162.1 L1873.2 1203.0 L1876.5 1203.0 L1876.5 1204.9 L1879.9 1204.9 L1879.9 1229.8 L1883.3 1229.8 L1883.3 1221.8 L1886.6 1221.8 L1886.6 1089.9 L1890.0 1089.9 L1890.0 1088.0 L1893.3 1088.0 L1893.3 1049.8 L1896.8 1049.8 L1896.8 1054.6 L1900.3 1054.6 L1900.3 1017.7 L1903.8 1017.7 L1903.8 1049.2 L1907.4 1049.2 L1907.4 984.6 L1910.9 984.6 L1910.9 1020.4 L1914.4 1020.4 L1914.4 1090.7 L1918.1 1090.7 L1918.1 1040.7 L1921.7 1040.7 L1921.7 1168.6 L1925.1 1168.6 L1925.1 1040.2 L1928.5 1040.2 L1928.5 940.4 L1932.1 940.4 L1932.1 941.8 L1935.7 941.8 L1935.7 1032.1 L1939.1 1032.1 L1939.1 1034.0 L1942.4 1034.0 L1942.4 1171.2 L1945.9 1171.2 L1945.9 1177.6 L1949.5 1177.6 L1949.5 1139.7 L1952.8 1139.7 L1952.8 1143.4 L1956.2 1143.4 L1956.2 1171.2 L1959.7 1171.2 L1959.7 1168.6 L1963.1 1168.6 L1963.1 1049.8 L1966.6 1049.8 L1966.6 1048.2 L1970.2 1048.2 L1970.2 1019.3 L1973.5 1019.3 L1973.5 1006.0 L1976.8 1006.0 L1976.8 1135.1 L1979.9 1135.1 L1979.9 1126.3 L1983.0 1126.3 L1983.0 1163.2 L1986.3 1163.2 L1986.3 1169.1 L1989.7 1169.1 L1989.7 1173.9 L1993.0 1173.9 L1993.0 1173.9 L1996.4 1173.9 L1996.4 1149.1 L2000.4 1149.1 L2000.4 1171.2 L2004.4 1171.2 L2004.4 1123.7 L2007.7 1123.7 L2007.7 1126.3 L2011.1 1126.3 L2011.1 1171.2 L2014.7 1171.2 L2014.7 1173.9 L2018.3 1173.9 L2018.3 1107.6 L2022.1 1107.6 L2022.1 1108.4 L2025.8 1108.4 L2025.8 1071.5 L2029.1 1071.5 L2029.1 1065.6 L2032.5 1065.6 L2032.5 887.9 L2038.8 890.7 L2038.8 802.3 L2042.4 802.3 L2042.4 790.3 L2046.1 790.3 L2046.1 913.1 L2049.4 913.1 L2049.4 913.1 L2052.8 913.1 L2052.8 861.3 L2056.2 861.3 L2056.2 877.9 L2059.6 877.9 L2059.6 925.1 L2063.4 925.1 L2063.4 929.7 L2067.3 929.7 L2067.3 1087.0 L2070.9 1087.0 L2070.9 1092.3 L2074.5 1092.3 L2074.5 1063.5 L2077.8 1063.5 L2077.8 1072.8 L2081.2 1072.8 L2081.2 1093.7 L2084.9 1093.7 L2084.9 1093.7 L2088.7 1093.7 L2088.7 1019.3 L2092.0 1019.3 L2092.0 1027.4 L2095.4 1027.4 L2095.4 1048.2 L2098.7 1048.2 L2098.7 1047.4 L2102.0 1047.4 L2102.0 1139.1 L2105.7 1139.1 L2105.7 1135.7 L2109.3 1135.7 L2109.3 1167.2 L2113.0 1167.2 L2113.0 1168.6 L2116.7 1168.6 L2116.7 1157.1 L2120.1 1157.1 L2120.1 1163.3 L2123.5 1163.3 L2123.5 1208.2 L2126.8 1208.2 L2126.8 1203.4 L2130.0 1203.4 L2130.0 1221.6 L2133.7 1221.6 L2133.7 1210.9 L2137.5 1210.9 L2137.5 1198.1 L2140.8 1198.1 L2140.8 1199.4 L2144.1 1199.4 L2144.1 1225.6 L2147.8 1225.6 L2147.8 1228.8 L2151.4 1228.8 L2151.4 1255.0 L2154.8 1255.0 L2154.8 1254.2 L2158.3 1254.2 L2158.3 1272.4 L2161.7 1272.4 L2161.7 1260.4 L2165.0 1260.4 L2165.0 1256.9 L2168.6 1256.9 L2168.6 1263.0 L2172.2 1263.0 L2172.2 1214.1 L2175.6 1214.1 L2175.6 1203.4 L2178.9 1203.4 L2178.9 1233.6 L2182.5 1233.6 L2182.5 1226.9 L2186.1 1226.9 L2186.1 1194.0 L2189.9 1194.0 L2189.9 1227.5 L2193.6 1227.5 L2193.6 1253.7 L2197.0 1253.7 L2197.0 1252.9 L2200.3 1252.9 L2200.3 1272.4 L2203.7 1272.4 L2203.7 1267.0 L2207.0 1267.0 L2207.0 1238.2 L2210.8 1238.2 L2210.8 1236.9 L2214.5 1236.9 L2214.5 1240.3 L2218.1 1240.3 L2218.1 1232.8 L2221.7 1232.8 L2221.7 1261.7 L2225.1 1261.7 L2225.1 1248.3 L2228.4 1248.3 L2228.4 1234.2 L2232.0 1234.2 L2232.0 1239.5 L2235.6 1239.5 L2235.6 1269.7 L2239.0 1269.7 L2239.0 1273.7 L2242.3 1273.7 L2242.3 1260.9 L2245.8 1260.9 L2245.8 1262.3 L2249.3 1262.3 L2249.3 1275.1 L2252.5 1275.1 L2252.5 1265.7 L2255.7 1265.7 L2255.7 1255.6 L2258.8 1255.6 L2258.8 1259.0 L2261.9 1259.0 L2261.9 1218.1 L2265.5 1218.1 L2265.5 1218.9 L2269.1 1218.9 L2269.1 1210.1 L2272.8 1210.1 L2272.8 1218.1 L2276.6 1218.1 L2276.6 1269.7 L2279.9 1269.7 L2279.9 1273.0 L2283.3 1273.0 L2283.3 1292.5 L2286.9 1292.5 L2286.9 1289.8 L2290.5 1289.8 L2290.5 1273.0 L2294.2 1273.0 L2294.2 1275.6 L2298.0 1275.6 L2298.0 1281.8 L2301.6 1281.8 L2301.6 1276.4 L2305.2 1276.4 L2305.2 1224.8 L2308.5 1224.8 L2308.5 1224.8 L2311.9 1224.8 L2311.9 1232.3 L2315.4 1232.3 L2315.4 1227.5 L2318.8 1227.5 L2318.8 1296.5 L2322.4 1296.5 L2322.4 1300.5 L2326.1 1300.5 L2326.1 1270.3 L2329.4 1270.3 L2329.4 1263.6 L2332.7 1263.6 L2332.7 1283.1 L2336.4 1283.1 L2336.4 1285.8 L2340.0 1285.8 L2340.0 1260.9 L2343.0 1260.9 L2343.0 1278.3 L2346.1 1278.3 L2346.1 1288.4 L2349.5 1288.4 L2349.5 1288.4 L2352.8 1288.4 L2352.8 1250.2 L2355.9 1250.2 L2355.9 1244.5 L2359.0 1244.5 L2359.0 1192.9 L2363.0 1192.9 L2363.0 1193.7 L2367.0 1193.7 L2367.0 1179.2 L2371.4 1179.2 L2371.4 1187.2 L2375.7 1187.2 L2375.7 1249.5 L2378.7 1249.5 L2378.7 1249.1 L2381.8 1249.1 L2381.8 1300.4 L2385.1 1300.4 L2385.1 1295.6 L2388.4 1295.6 L2388.4 1308.4 L2391.8 1308.4 L2391.8 1308.4 L2395.1 1308.4 L2395.1 1294.2 L2398.5 1294.2 L2398.5 1295.6 L2401.8 1295.6 L2401.8 1303.0 L2405.2 1303.0 L2405.2 1298.3 L2408.5 1298.3 L2408.5 1312.4 L2412.4 1312.4 L2412.4 1317.7 L2416.3 1317.7 L2416.3 1250.4 L2419.7 1250.4 L2419.7 1248.2 L2423.2 1248.2 L2423.2 1199.3 L2427.0 1199.3 L2427.0 1195.3 L2430.7 1195.3 L2430.7 1232.1 L2435.0 1232.1 L2435.0 1237.0 L2439.3 1237.0 L2439.3 1288.3 L2442.3 1288.3 L2442.3 1287.0 L2445.4 1287.0 L2445.4 1239.4 L2448.6 1239.4 L2448.6 1236.1 L2451.8 1236.1 L2451.8 1178.2 L2455.6 1178.2 L2455.6 1176.0 L2459.3 1176.0 L2459.3 1081.9 L2462.3 1081.9 L2462.3 1086.7 L2465.2 1086.7 L2465.2 1061.8 L2469.0 1061.8 L2469.0 1087.2 L2472.7 1087.2 L2472.7 1185.6 L2476.1 1185.6 L2476.1 1166.9 L2479.4 1166.9 L2479.4 1088.6 L2482.7 1088.6 L2482.7 1089.3 L2486.1 1089.3 L2486.1 1061.8 L2489.7 1061.8 L2489.7 1068.5 L2493.3 1068.5 L2493.3 1096.0 L2497.1 1096.0 L2497.1 1088.0 L2500.8 1088.0 L2500.8 1067.2 L2504.1 1067.2 L2504.1 1076.0 L2507.5 1076.0 L2507.5 1015.0 L2511.1 1015.0 L2511.1 1009.7 L2514.7 1009.7 L2514.7 1035.8 L2518.5 1035.8 L2518.5 1027.0 L2522.2 1027.0 L2522.2 1158.6 L2525.5 1158.6 L2525.5 1144.4 L2528.9 1144.4 L2528.9 1193.7 L2532.5 1193.7 L2532.5 1145.5 L2536.1 1145.5 L2536.1 1079.2 L2538.8 1079.2 L2538.8 1073.3 L2541.5 1073.3 L2541.5 1059.1 L2545.1 1059.1 L2545.1 1078.6 L2548.7 1078.6 L2548.7 771.2 L2552.1 771.2 L2552.1 775.0 L2555.5 775.0 L2555.5 307.2 L2558.5 307.2 L2558.5 307.7 L2561.5 307.7 L2561.5 155.7 L2565.2 155.7 L2565.2 153.7 L2569.0 153.7 L2569.0 482.0 L2572.5 482.0 L2572.5 486.0 L2576.0 486.0 L2576.0 736.7 L2579.5 736.7 L2579.5 720.3 L2583.0 720.3 L2583.0 880.2 L2586.8 880.2 L2586.8 834.7 L2590.6 834.7 L2590.6 685.3 L2594.1 685.3 L2594.1 709.3 L2597.5 709.3 L2597.5 770.7 L2601.8 770.7 L2601.8 776.0 L2606.0 776.0 L2606.0 935.4 L2608.1 935.4 L2608.1 960.3 L2610.2 960.3 L2610.2 1025.1 L2614.2 1025.1 L2614.2 1019.0 L2618.2 1019.0 L2618.2 1089.3 L2621.6 1089.3 L2621.6 1089.9 L2625.1 1089.9 L2625.1 1120.1 L2628.4 1120.1 L2628.4 1111.3 L2631.8 1111.3 L2631.8 1177.6 L2635.1 1177.6 L2635.1 1173.6 L2638.4 1173.6 L2638.4 1122.0 L2642.1 1122.0 L2642.1 1115.3 L2645.7 1115.3 L2645.7 1134.8 L2649.4 1134.8 L2649.4 1119.3 L2653.2 1119.3 L2653.2 1180.3 L2656.8 1180.3 L2656.8 1210.3 L2660.4 1210.3 L2660.4 1236.5 L2664.1 1236.5 L2664.1 1205.7 L2667.9 1205.7 L2667.9 1162.1 L2671.2 1162.1 L2671.2 1156.8 L2674.6 1156.8 L2674.6 1201.7 L2677.9 1201.7 L2677.9 1204.9 L2681.2 1204.9 L2681.2 1274.9 L2684.6 1274.9 L2684.6 1231.1 L2687.9 1231.1 L2687.9 1036.4 L2691.4 1036.4 L2691.4 1030.5 L2694.8 1030.5 L2694.8 961.3 L2698.9 961.3 L2698.9 961.3 L2703.0 961.3 L2703.0 1050.5 L2706.2 1050.5 L2706.2 1044.4 L2709.3 1044.4 L2709.3 1113.4 L2713.3 1113.4 L2713.3 1092.6 L2717.4 1092.6 L2717.4 1148.2 L2720.7 1148.2 L2720.7 1146.1 L2724.0 1146.1 L2724.0 1188.3 L2727.1 1188.3 L2727.1 1196.9 L2730.2 1196.9 L2730.2 1225.8 L2733.8 1225.8 L2733.8 1224.4 L2737.4 1224.4 L2737.4 1196.9 L2740.8 1196.9 L2740.8 1225.0 L2744.1 1225.0 L2744.1 1279.0 L2747.5 1279.0 L2747.5 1280.3 L2750.8 1280.3 L2750.8 1255.8 L2754.8 1255.8 L2754.8 1237.8 L2758.8 1237.8 L2758.8 1184.9 L2762.2 1184.9 L2762.2 1188.9 L2765.5 1188.9 L2765.5 1207.0 L2768.9 1207.0 L2768.9 1207.6 L2772.2 1207.6 L2772.2 1266.9 L2776.2 1266.9 L2776.2 1239.1 L2780.2 1239.1 L2780.2 1196.9 L2783.6 1196.9 L2783.6 1193.7 L2786.9 1193.7 L2786.9 1170.2 L2790.2 1170.2 L2790.2 1165.6 L2793.6 1165.6 L2793.6 851.3 L2796.8 851.3 L2796.8 853.7 L2800.0 853.7 L2800.0 791.7 L2803.6 791.7 L2803.6 779.8 L2807.2 779.8 L2807.2 960.7 L2810.1 960.7 L2810.1 960.7 L2813.0 960.7 L2813.0 932.3 L2816.1 932.3 L2816.1 932.3 L2819.1 932.3 L2819.1 1007.7 L2823.1 1007.7 L2823.1 1013.7 L2827.0 1013.7 L2827.0 1142.0 L2835.1 1189.7 L2835.1 1283.0 L2838.4 1283.0 L2838.4 1284.3 L2841.8 1284.3 L2841.8 1258.4 L2845.1 1258.4 L2845.1 1263.2 L2848.4 1263.2 L2848.4 1218.0 L2852.5 1218.0 L2852.5 1221.7 L2856.5 1221.7 L2856.5 1211.3 L2862.7 1189.7 L2862.7 1150.3 L2866.3 1150.3 L2866.3 1156.0 L2869.9 1156.0 L2869.9 1139.1 L2873.6 1139.1 L2873.6 1144.5 L2877.4 1144.5 L2877.4 1234.9 L2880.7 1234.9 L2880.7 1222.1 L2884.1 1222.1 L2884.1 1257.6 L2887.4 1257.6 L2887.4 1239.5 L2890.8 1239.5 L2890.8 1276.3 L2894.1 1276.3 L2894.1 1241.6 L2897.5 1241.6 L2897.5 1210.0 L2900.8 1210.0 L2900.8 1211.4 L2904.1 1211.4 L2904.1 1225.5 L2907.8 1225.5 L2907.8 1250.9 L2911.4 1250.9 L2911.4 1188.6 L2914.8 1188.6 L2914.8 1227.4 L2918.3 1227.4 L2918.3 1250.9 L2921.7 1250.9 L2921.7 1267.0 L2925.0 1267.0 L2925.0 1231.4 L2928.6 1231.4 L2928.6 1212.7 L2932.2 1212.7 L2932.2 1264.3 L2935.6 1264.3 L2935.6 1236.2 L2938.9 1236.2 L2938.9 1220.7 L2942.5 1220.7 L2942.5 1224.2 L2946.1 1224.2 L2946.1 1196.7 L2949.9 1196.7 L2949.9 1198.0 L2953.6 1198.0 L2953.6 1209.5 L2957.4 1209.5 L2957.4 1204.7 L2961.1 1204.7 L2961.1 1275.0 L2964.7 1275.0 L2964.7 1279.0 L2968.3 1279.0 L2968.3 1264.9 L2971.7 1264.9 L2971.7 1265.6 L2975.0 1265.6 L2975.0 1227.4 L2978.8 1227.4 L2978.8 1235.5 L2982.5 1235.5 L2982.5 1273.7 L2985.7 1273.7 L2985.7 1277.7 L2988.9 1277.7 L2988.9 1243.5 L2992.4 1243.5 L2992.4 1243.5 L2995.9 1243.5 L2995.9 1291.1 L2999.2 1291.1 L2999.2 1242.9 L3002.6 1242.9 L3002.6 1212.7 L3006.5 1212.7 L3006.5 1212.7 L3010.3 1212.7 L3010.3 1252.3 L3013.8 1252.3 L3013.8 1238.9 L3017.3 1238.9 L3017.3 1231.4 L3020.5 1231.4 L3020.5 1236.8 L3023.7 1236.8 L3023.7 1249.6 L3027.5 1249.6 L3027.5 1250.2 L3031.2 1250.2 L3031.2 1308.4 L3034.6 1308.4 L3034.6 1311.1 L3037.9 1311.1 L3037.9 1282.3 L3041.2 1282.3 L3041.2 1283.0 L3044.6 1283.0 L3044.6 1268.9 L3048.3 1268.9 L3048.3 1256.9 L3052.1 1256.9 L3052.1 1281.7 L3055.3 1281.7 L3055.3 1272.3 L3058.5 1272.3 L3058.5 1186.0 L3062.0 1186.0 L3062.0 1184.6 L3065.5 1184.6 L3065.5 1206.8 L3069.1 1206.8 L3069.1 1202.0 L3072.7 1202.0 L3072.7 1241.6 L3076.0 1241.6 L3076.0 1238.9 L3079.4 1238.9 L3079.4 1168.6 L3083.1 1168.6 L3083.1 1153.9 L3086.9 1153.9 L3086.9 1201.4 L3090.5 1201.4 L3090.5 1198.0 L3094.1 1198.0 L3094.1 1210.8 L3097.4 1210.8 L3097.4 1212.7 L3100.8 1212.7 L3100.8 1246.9 L3104.1 1246.9 L3104.1 1263.0 L3107.5 1263.0 L3107.5 1227.4 L3111.2 1227.4 L3111.2 1244.7 L3115.0 1244.7 L3115.0 1271.0 L3117.7 1271.0 L3117.7 1256.1 L3120.4 1256.1 L3120.4 1236.7 L3123.7 1236.7 L3123.7 1237.4 L3127.0 1237.4 L3127.0 1088.6 L3130.7 1088.6 L3130.7 1089.3 L3134.3 1089.3 L3134.3 1036.4 L3138.0 1036.4 L3138.0 1021.7 L3141.8 1021.7 L3141.8 1124.1 L3145.1 1124.1 L3145.1 1127.4 L3148.4 1127.4 L3148.4 1208.0 L3151.8 1208.0 L3151.8 1210.7 L3155.1 1210.7 L3155.1 1167.5 L3158.9 1167.5 L3158.9 1173.6 L3162.6 1173.6 L3162.6 1093.9 L3166.2 1093.9 L3166.2 1097.4 L3169.8 1097.4 L3169.8 1088.6 L3173.2 1088.6 L3173.2 1083.2 L3176.5 1083.2 L3176.5 1163.0 L3184.0 1178.0 L3184.0 1240.1 L3187.6 1240.1 L3187.6 1242.4 L3191.2 1242.4 L3191.2 1265.5 L3194.6 1265.5 L3194.6 1273.5 L3197.9 1273.5 L3197.9 1179.1 L3201.5 1179.1 L3201.5 1176.5 L3205.2 1176.5 L3205.2 1193.7 L3208.5 1193.7 L3208.5 1195.2 L3211.8 1195.2 L3211.8 1316.3 L3214.9 1316.3 L3214.9 1317.7 L3218.0 1317.7 L3218.0 1247.4 L3221.3 1247.4 L3221.3 1245.1 L3224.7 1245.1 L3224.7 1252.5 L3228.7 1252.5 L3228.7 1269.5 L3232.7 1269.5 L3232.7 1219.3 L3236.1 1219.3 L3236.1 1274.1 L3239.4 1274.1 L3239.4 1278.9 L3243.0 1278.9 L3243.0 1276.8 L3246.6 1276.8 L3246.6 1313.7 L3250.0 1313.7 L3250.0 1308.9 L3253.3 1308.9 L3253.3 1323.0 L3256.7 1323.0 L3256.7 1320.4 L3260.0 1320.4 L3260.0 1307.6 L3263.5 1307.6 L3263.5 1313.7 L3267.0 1313.7 L3267.0 1300.9 L3270.6 1300.9 L3270.6 1295.5 L3274.2 1295.5 L3274.2 1313.7 L3277.5 1313.7 L3277.5 1313.7 L3280.9 1313.7 L3280.9 1300.9 L3284.5 1300.9 L3284.5 1292.8 L3288.1 1292.8 L3288.1 1319.0 L3291.8 1319.0 L3291.8 1321.7 L3295.6 1321.7 L3295.6 1290.2 L3298.9 1290.2 L3298.9 1296.9 L3302.3 1296.9 L3302.3 1301.6 L3306.0 1301.6 L3306.0 1298.2 L3309.8 1298.2 L3309.8 1340.4 L3313.0 1340.4 L3313.0 1333.0 L3316.2 1333.0 L3316.2 1352.5 L3319.7 1352.5 L3319.7 1331.1 L3323.1 1331.1 L3323.1 1322.3 L3326.7 1322.3 L3326.7 1327.0 L3330.4 1327.0 L3330.4 1299.5 L3333.7 1299.5 L3333.7 1299.0 L3337.0 1299.0 L3337.0 1116.7 L3340.4 1116.7 L3340.4 1110.7 L3343.7 1110.7 L3343.7 1056.5 L3347.7 1056.5 L3347.7 1044.4 L3351.8 1044.4 L3351.8 1118.8 L3355.1 1118.8 L3355.1 1125.6 L3358.4 1125.6 L3358.4 1196.0 L3361.9 1196.0 L3361.9 1196.5 L3365.4 1196.5 L3365.4 1262.7 L3368.8 1262.7 L3368.8 1266.3 L3372.2 1266.3 L3372.2 1271.7 L3375.8 1271.7 L3375.8 1280.3 L3379.4 1280.3 L3379.4 1293.7 L3382.8 1293.7 L3382.8 1295.3 L3386.1 1295.3 L3386.1 1315.7 L3389.4 1315.7 L3389.4 1319.1 L3392.7 1319.1 L3392.7 1154.0 L3396.1 1154.0 L3396.1 1148.1 L3399.4 1148.1 L3399.4 1087.3 L3402.8 1087.3 L3402.8 1085.4 L3406.1 1085.4 L3406.1 1021.8 L3410.0 1021.8 L3410.0 1006.3 L3413.9 1006.3 L3413.9 1038.7 L3417.2 1038.7 L3417.2 1034.3 L3420.4 1034.3 L3420.4 1190.9 L3423.7 1190.9 L3423.7 1192.8 L3427.0 1192.8 L3427.0 1253.7 L3430.6 1253.7 L3430.6 1249.0 L3434.2 1249.0 L3434.2 1273.8 L3437.5 1273.8 L3437.5 1268.4 L3440.9 1268.4 L3440.9 1231.6 L3444.5 1231.6 L3444.5 1244.4 L3448.1 1244.4 L3448.1 1214.2 L3451.9 1214.2 L3451.9 1211.5 L3455.6 1211.5 L3455.6 1259.1 L3459.2 1259.1 L3459.2 1257.7 L3462.8 1257.7 L3462.8 1148.6 L3466.2 1148.6 L3466.2 1148.1 L3469.5 1148.1 L3469.5 1143.3 L3473.3 1143.3 L3473.3 1132.6 L3477.0 1132.6 L3477.0 1241.7 L3480.4 1241.7 L3480.4 1242.3 L3483.7 1242.3 L3483.7 1253.7 L3487.4 1253.7 L3487.4 1256.3 L3491.2 1256.3 L3491.2 1315.5 L3494.6 1315.5 L3494.6 1314.6 L3497.9 1314.6 L3497.9 1266.3 L3501.2 1266.3 L3501.2 1266.5 L3504.5 1266.5 L3504.5 1125.9 L3508.1 1125.9 L3508.1 1121.3 L3511.8 1121.3 L3511.8 331.3 L3515.4 331.3 L3515.4 320.7 L3519.0 320.7 L3519.0 245.7 L3522.5 245.7 L3522.5 257.8 L3526.0 257.8 L3526.0 879.7 L3532.5 893.3 L3532.5 1022.7 L3535.7 1022.7 L3535.7 1001.8 L3538.9 1001.8 L3538.9 1058.7 L3542.7 1058.7 L3542.7 1056.3 L3546.5 1056.3 L3546.5 1239.0 L3550.3 1239.0 L3550.3 1239.0 L3554.1 1239.0 L3554.1 1124.6 L3557.3 1124.6 L3557.3 1125.3 L3560.5 1125.3 L3560.5 1061.9 L3564.3 1061.9 L3564.3 1046.3 L3568.0 1046.3 L3568.0 1113.3 L3571.3 1113.3 L3571.3 1116.5 L3574.7 1116.5 L3574.7 1204.2 L3578.0 1204.2 L3578.0 1210.2 L3581.3 1210.2 L3581.3 1263.1 L3585.1 1263.1 L3585.1 1210.9 L3588.8 1210.9 L3588.8 1184.7 L3592.4 1184.7 L3592.4 1174.8 L3596.1 1174.8 L3596.1 1144.6 L3599.4 1144.6 L3599.4 1164.7 L3602.7 1164.7 L3602.7 1193.5 L3606.5 1193.5 L3606.5 1196.8 L3610.2 1196.8 L3610.2 1237.7 L3613.4 1237.7 L3613.4 1239.0 L3616.7 1239.0 L3616.7 1227.6 L3621.5 1227.6 L3621.5 1239.8 L3626.3 1239.8 L3626.3 1280.5 L3628.6 1280.5 L3628.6 1264.2 L3630.9 1264.2 L3630.9 1255.5 L3634.2 1255.5 L3634.2 1248.8 L3637.6 1248.8 L3637.6 1272.3 L3640.9 1272.3 L3640.9 1242.8 L3644.3 1242.8 L3644.3 1217.1 L3647.8 1217.1 L3647.8 1220.7 L3651.4 1220.7 L3651.4 1248.2 L3654.9 1248.2 L3654.9 1220.1 L3658.4 1220.1 L3658.4 1178.3 L3661.8 1178.3 L3661.8 1179.1 L3665.1 1179.1 L3665.1 1128.8 L3668.5 1128.8 L3668.5 1140.3 L3671.8 1140.3 L3671.8 1106.1 L3675.2 1106.1 L3675.2 1105.5 L3678.5 1105.5 L3678.5 1041.9 L3682.1 1041.9 L3682.1 1039.2 L3685.7 1039.2 L3685.7 1085.4 L3689.2 1085.4 L3689.2 1038.6 L3692.7 1038.6 L3692.7 976.3 L3696.2 976.3 L3696.2 979.8 L3699.8 979.8 L3699.8 908.7 L3703.2 908.7 L3703.2 934.3 L3706.6 934.3 L3706.6 1019.9 L3709.9 1019.9 L3709.9 1019.1 L3713.3 1019.1 L3713.3 1116.2 L3716.8 1116.2 L3716.8 1105.5 L3720.2 1105.5 L3720.2 1055.3 L3724.1 1055.3 L3724.1 1070.7 L3728.0 1070.7 L3728.0 991.1 L3731.3 991.1 L3731.3 1002.5 L3734.7 1002.5 L3734.7 934.0 L3738.3 934.0 L3738.3 976.3 L3741.9 976.3 L3741.9 1048.0 L3745.1 1048.0 L3745.1 1049.9 L3748.3 1049.9 L3748.3 1137.6 L3752.2 1137.6 L3752.2 1135.5 L3756.1 1135.5 L3756.1 1162.6 L3759.4 1162.6 L3759.4 1170.6 L3762.8 1170.6 L3762.8 1140.9 L3766.1 1140.9 L3766.1 1146.2 L3769.5 1146.2 L3769.5 1186.7 L3773.2 1186.7 L3773.2 1171.6 L3777.0 1171.6 L3777.0 1223.2 L3780.6 1223.2 L3780.6 1232.1 L3784.2 1232.1 L3784.2 1214.0 L3787.5 1214.0 L3787.5 1230.5 L3790.9 1230.5 L3790.9 1265.6 L3795.2 1265.6 L3795.2 1267.0 L3799.6 1267.0 L3799.6 1244.1 L3802.2 1244.1 L3802.2 1252.3 L3804.9 1252.3 L3804.9 1231.5 L3808.3 1231.5 L3808.3 1233.5 L3811.8 1233.5 L3811.8 1215.7 L3815.4 1215.7 L3815.4 1218.6 L3818.9 1218.6 L3818.9 1182.1 L3822.6 1182.1 L3822.6 1209.1 L3826.2 1209.1 L3826.2 1247.0 L3829.5 1247.0 L3829.5 1250.4 L3832.7 1250.4 L3832.7 1285.9 L3835.9 1285.9 L3835.9 1254.9 L3839.0 1254.9 L3839.0 1239.8 L3842.8 1239.8 L3842.8 1241.8 L3846.7 1241.8 L3846.7 1232.5 L3850.2 1232.5 L3850.2 1227.4 L3853.7 1227.4 L3853.7 1246.0 L3857.2 1246.0 L3857.2 1236.1 L3860.7 1236.1 L3860.7 1222.0 L3864.3 1222.0 L3864.3 1229.3 L3868.0 1229.3 L3868.0 1276.5 L3871.3 1276.5 L3871.3 1307.0 L3874.6 1307.0 L3874.6 1237.8 L3877.8 1237.8 L3877.8 1236.1 L3880.9 1236.1 L3880.9 1147.6 L3885.1 1147.6 L3885.1 1149.3 L3889.3 1149.3 L3889.3 1125.3 L3892.5 1125.3 L3892.5 1148.4 L3895.6 1148.4 L3895.6 1235.5 L3899.3 1235.5 L3899.3 1236.5 L3903.0 1236.5 L3903.0 1214.6 L3906.2 1214.6 L3906.2 1199.9 L3909.3 1199.9 L3909.3 1249.1 L3913.0 1249.1 L3913.0 1231.3 L3916.7 1231.3 L3916.7 1199.9 L3920.3 1199.9 L3920.3 1195.7 L3924.0 1195.7 L3924.0 1227.1 L3927.7 1227.1 L3927.7 1210.2 L3931.4 1210.2 L3931.4 1145.3" fill="none" stroke="#244b57" stroke-width="9.4" stroke-linejoin="round" stroke-linecap="round"/>
</svg>
</body></html>
